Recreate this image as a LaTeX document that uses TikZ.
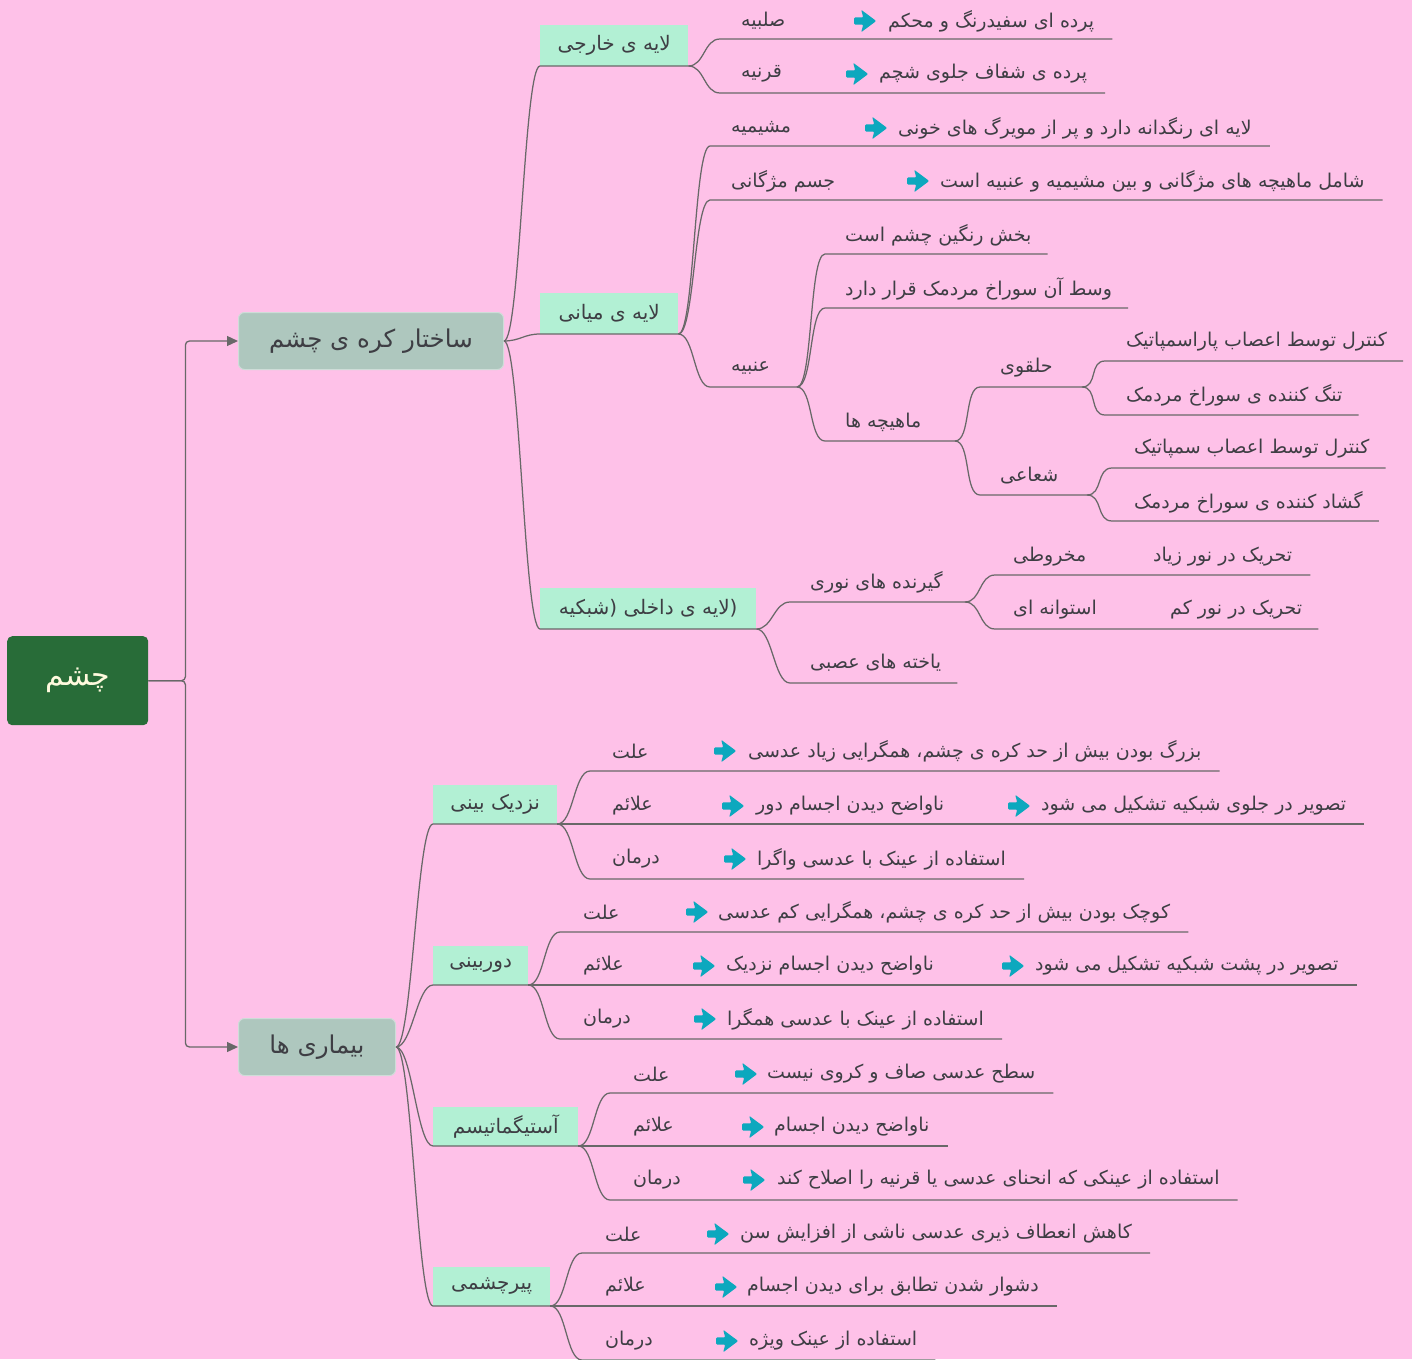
\documentclass[tikz,border=0pt]{standalone}
\usepackage{fontspec}
\usetikzlibrary{arrows.meta,calc}
\TeXXeTstate=1
\newfontfamily\fa[Script=Arabic]{DejaVu Sans}

\definecolor{bgpink}{RGB}{254,193,232}
\definecolor{rootgreen}{RGB}{40,108,56}
\definecolor{maingray}{RGB}{174,199,190}
\definecolor{subgreen}{RGB}{178,240,212}
\definecolor{linegray}{RGB}{104,104,104}
\definecolor{arrowteal}{RGB}{12,168,190}
\definecolor{inkgray}{RGB}{62,62,68}
\definecolor{rootink}{RGB}{255,250,222}

% a text row: label node
\newcommand\lab[4]{\node[lbl] (#1) at (#2,#3) {#4};}
% a teal arrow icon
\newcommand\arw[3]{\node[arricon] (#1) at (#2,#3) {};}
% curved connector from a branch point to the start of an underline, then the underline
\newcommand\branch[3]{\draw[conn] (#1) .. controls +(16,0) and +(-16,0) .. (#2) -- (#3);}

\begin{document}
\begin{tikzpicture}[x=1pt,y=-1pt,
  lbl/.style={anchor=west,inner sep=0pt,text=inkgray,font=\fa\fontsize{19}{22}\selectfont},
  arricon/.style={anchor=west,inner sep=0pt,minimum width=23pt,minimum height=24pt,
    path picture={\fill[arrowteal,rounded corners=1pt]
      ($(path picture bounding box.west)+(1,3.6)$) -- ++(9,0) -- ++(-2,7.6) -- ++(15,-11.2)
      -- ++(-15,-11.2) -- ++(2,7.6) -- ++(-9,0) -- cycle;}},
  conn/.style={draw=linegray,line width=1.25pt},
  trunk/.style={draw=linegray,line width=1.3pt,rounded corners=4pt,
    -{Triangle[length=11pt,width=10pt]}},
  rootbox/.style={fill=rootgreen,rounded corners=5pt,text=rootink,
    font=\fa\fontsize{30}{34}\selectfont},
  mainbox/.style={fill=maingray,draw=maingray!60!white,line width=1pt,rounded corners=6pt,
    text=inkgray,font=\fa\fontsize{24.5}{28}\selectfont},
  subbox/.style={fill=subgreen,inner sep=0pt,anchor=south west,text=inkgray,
    font=\fa\fontsize{20}{23}\selectfont}
]
\useasboundingbox (0,0) rectangle (1412,1359);
\fill[bgpink] (0,0) rectangle (1412,1359);

% ---------- root and the two main topics ----------
\node[rootbox,minimum width=141pt,minimum height=89pt,anchor=north west] (root) at (7,636) {\raisebox{-4pt}{\beginR چشم\endR}};
\node[mainbox,minimum width=265pt,minimum height=57pt,anchor=north west] (S) at (238,312) {\raisebox{-2pt}{\beginR ساختار کره ی چشم\endR}};
\node[mainbox,minimum width=157pt,minimum height=57pt,anchor=north west] (M) at (238,1018) {\raisebox{-2pt}{\beginR بیماری ها\endR}};
\draw[trunk] (root.east) -- ++(37,0) |- (S.west);
\draw[trunk] (root.east) -- ++(37,0) |- (M.west);

% ---------- layers of the eyeball ----------
\node[subbox,minimum width=148pt,minimum height=41pt] (L1) at (540,66) {\beginR لایه ی خارجی\endR};
\node[subbox,minimum width=138pt,minimum height=41pt] (L2) at (540,334) {\beginR لایه ی میانی\endR};
\node[subbox,minimum width=216pt,minimum height=41pt] (L3) at (540,629) {\beginR (لایه ی داخلی (شبکیه\endR};
\branch{S.east}{L1.south west}{L1.south east}
\branch{S.east}{L2.south west}{L2.south east}
\branch{S.east}{L3.south west}{L3.south east}

% outer layer
\lab{r1}{741}{21}{\beginR صلبیه\endR}\arw{r1a}{853}{21}\lab{r1d}{888}{21}{\beginR پرده ای سفیدرنگ و محکم\endR}
\coordinate (r1s) at (720,39); \coordinate (r1e) at ($(r1d.east |- r1s)+(18,0)$);
\branch{L1.south east}{r1s}{r1e}
\lab{r2}{741}{74}{\beginR قرنیه\endR}\arw{r2a}{845}{74}\lab{r2d}{879}{74}{\beginR پرده ی شفاف جلوی شچم\endR}
\coordinate (r2s) at (720,93); \coordinate (r2e) at ($(r2d.east |- r2s)+(18,0)$);
\branch{L1.south east}{r2s}{r2e}

% middle layer
\lab{r3}{731}{128}{\beginR مشیمیه\endR}\arw{r3a}{864}{128}\lab{r3d}{898}{128}{\beginR لایه ای رنگدانه دارد و پر از مویرگ های خونی\endR}
\coordinate (r3s) at (710,146); \coordinate (r3e) at ($(r3d.east |- r3s)+(18,0)$);
\branch{L2.south east}{r3s}{r3e}
\lab{r4}{731}{181}{\beginR جسم مژگانی\endR}\arw{r4a}{906}{181}\lab{r4d}{940}{181}{\beginR شامل ماهیچه های مژگانی و بین مشیمیه و عنبیه است\endR}
\coordinate (r4s) at (710,200); \coordinate (r4e) at ($(r4d.east |- r4s)+(18,0)$);
\branch{L2.south east}{r4s}{r4e}
\lab{r5}{731}{368}{\beginR عنبیه\endR}
\coordinate (r5s) at (710,387); \coordinate (r5e) at (797,387);
\branch{L2.south east}{r5s}{r5e}

% iris
\lab{r6}{845}{235}{\beginR بخش رنگین چشم است\endR}
\coordinate (r6s) at (825,254); \coordinate (r6e) at ($(r6.east |- r6s)+(16,0)$);
\branch{r5e}{r6s}{r6e}
\lab{r7}{845}{289}{\beginR وسط آن سوراخ مردمک قرار دارد\endR}
\coordinate (r7s) at (825,308); \coordinate (r7e) at ($(r7.east |- r7s)+(16,0)$);
\branch{r5e}{r7s}{r7e}
\lab{r8}{845}{422}{\beginR ماهیچه ها\endR}
\coordinate (r8s) at (825,441); \coordinate (r8e) at (955,441);
\branch{r5e}{r8s}{r8e}

% iris muscles
\lab{r9}{1000}{368}{\beginR حلقوی\endR}
\coordinate (r9s) at (980,387); \coordinate (r9e) at (1082,387);
\branch{r8e}{r9s}{r9e}
\lab{r10}{1000}{476}{\beginR شعاعی\endR}
\coordinate (r10s) at (980,495); \coordinate (r10e) at (1087,495);
\branch{r8e}{r10s}{r10e}
\lab{r11}{1126}{342}{\beginR کنترل توسط اعصاب پاراسمپاتیک\endR}
\coordinate (r11s) at (1105,361); \coordinate (r11e) at ($(r11.east |- r11s)+(16,0)$);
\branch{r9e}{r11s}{r11e}
\lab{r12}{1126}{395}{\beginR تنگ کننده ی سوراخ مردمک\endR}
\coordinate (r12s) at (1105,415); \coordinate (r12e) at ($(r12.east |- r12s)+(16,0)$);
\branch{r9e}{r12s}{r12e}
\lab{r13}{1134}{449}{\beginR کنترل توسط اعصاب سمپاتیک\endR}
\coordinate (r13s) at (1112,468); \coordinate (r13e) at ($(r13.east |- r13s)+(16,0)$);
\branch{r10e}{r13s}{r13e}
\lab{r14}{1134}{502}{\beginR گشاد کننده ی سوراخ مردمک\endR}
\coordinate (r14s) at (1112,521); \coordinate (r14e) at ($(r14.east |- r14s)+(16,0)$);
\branch{r10e}{r14s}{r14e}

% inner layer
\lab{r15}{810}{582}{\beginR گیرنده های نوری\endR}
\coordinate (r15s) at (790,602); \coordinate (r15e) at (965,602);
\branch{L3.south east}{r15s}{r15e}
\lab{r16}{810}{663}{\beginR یاخته های عصبی\endR}
\coordinate (r16s) at (790,683); \coordinate (r16e) at ($(r16.east |- r16s)+(16,0)$);
\branch{L3.south east}{r16s}{r16e}
\lab{r17}{1013}{557}{\beginR مخروطی\endR}\lab{r17d}{1153}{557}{\beginR تحریک در نور زیاد\endR}
\coordinate (r17s) at (995,575); \coordinate (r17e) at ($(r17d.east |- r17s)+(18,0)$);
\branch{r15e}{r17s}{r17e}
\lab{r18}{1013}{610}{\beginR استوانه ای\endR}\lab{r18d}{1170}{610}{\beginR تحریک در نور کم\endR}
\coordinate (r18s) at (995,629); \coordinate (r18e) at ($(r18d.east |- r18s)+(16,0)$);
\branch{r15e}{r18s}{r18e}

% ---------- diseases ----------
\node[subbox,minimum width=124pt,minimum height=39pt] (D1) at (433,824) {\beginR نزدیک بینی\endR};
\node[subbox,minimum width=95pt,minimum height=39pt] (D2) at (433,985) {\beginR دوربینی\endR};
\node[subbox,minimum width=145pt,minimum height=39pt] (D3) at (433,1146) {\beginR آستیگماتیسم\endR};
\node[subbox,minimum width=117pt,minimum height=39pt] (D4) at (433,1306) {\beginR پیرچشمی\endR};
\branch{M.east}{D1.south west}{D1.south east}
\branch{M.east}{D2.south west}{D2.south east}
\branch{M.east}{D3.south west}{D3.south east}
\branch{M.east}{D4.south west}{D4.south east}

% myopia
\lab{a1}{612}{751}{\beginR علت\endR}\arw{a1a}{713}{751}\lab{a1d}{748}{751}{\beginR بزرگ بودن بیش از حد کره ی چشم، همگرایی زیاد عدسی\endR}
\coordinate (a1s) at (590,771); \coordinate (a1e) at ($(a1d.east |- a1s)+(18,0)$);
\branch{D1.south east}{a1s}{a1e}
\lab{a2}{612}{806}{\beginR علائم\endR}\arw{a2a}{721}{806}\lab{a2d}{756}{806}{\beginR ناواضح دیدن اجسام دور\endR}
\arw{a2b}{1007}{806}\lab{a2f}{1041}{806}{\beginR تصویر در جلوی شبکیه تشکیل می شود\endR}
\coordinate (a2e) at ($(a2f.east |- D1.south east)+(18,0)$);
\draw[conn] (D1.south east) -- (a2e);
\lab{a3}{612}{859}{\beginR درمان\endR}\arw{a3a}{723}{859}\lab{a3d}{757}{859}{\beginR استفاده از عینک با عدسی واگرا\endR}
\coordinate (a3s) at (590,879); \coordinate (a3e) at ($(a3d.east |- a3s)+(18,0)$);
\branch{D1.south east}{a3s}{a3e}

% hyperopia
\lab{b1}{583}{912}{\beginR علت\endR}\arw{b1a}{685}{912}\lab{b1d}{718}{912}{\beginR کوچک بودن بیش از حد کره ی چشم، همگرایی کم عدسی\endR}
\coordinate (b1s) at (560,932); \coordinate (b1e) at ($(b1d.east |- b1s)+(18,0)$);
\branch{D2.south east}{b1s}{b1e}
\lab{b2}{583}{966}{\beginR علائم\endR}\arw{b2a}{692}{966}\lab{b2d}{726}{966}{\beginR ناواضح دیدن اجسام نزدیک\endR}
\arw{b2b}{1001}{966}\lab{b2f}{1035}{966}{\beginR تصویر در پشت شبکیه تشکیل می شود\endR}
\coordinate (b2e) at ($(b2f.east |- D2.south east)+(18,0)$);
\draw[conn] (D2.south east) -- (b2e);
\lab{b3}{583}{1019}{\beginR درمان\endR}\arw{b3a}{693}{1019}\lab{b3d}{727}{1019}{\beginR استفاده از عینک با عدسی همگرا\endR}
\coordinate (b3s) at (560,1039); \coordinate (b3e) at ($(b3d.east |- b3s)+(18,0)$);
\branch{D2.south east}{b3s}{b3e}

% astigmatism
\lab{c1}{633}{1074}{\beginR علت\endR}\arw{c1a}{734}{1074}\lab{c1d}{767}{1074}{\beginR سطح عدسی صاف و کروی نیست\endR}
\coordinate (c1s) at (610,1093); \coordinate (c1e) at ($(c1d.east |- c1s)+(18,0)$);
\branch{D3.south east}{c1s}{c1e}
\lab{c2}{633}{1127}{\beginR علائم\endR}\arw{c2a}{741}{1127}\lab{c2d}{774}{1127}{\beginR ناواضح دیدن اجسام\endR}
\coordinate (c2e) at ($(c2d.east |- D3.south east)+(18,0)$);
\draw[conn] (D3.south east) -- (c2e);
\lab{c3}{633}{1180}{\beginR درمان\endR}\arw{c3a}{742}{1180}\lab{c3d}{777}{1180}{\beginR استفاده از عینکی که انحنای عدسی یا قرنیه را اصلاح کند\endR}
\coordinate (c3s) at (610,1200); \coordinate (c3e) at ($(c3d.east |- c3s)+(18,0)$);
\branch{D3.south east}{c3s}{c3e}

% presbyopia
\lab{d1}{605}{1234}{\beginR علت\endR}\arw{d1a}{706}{1234}\lab{d1d}{740}{1234}{\beginR کاهش انعطاف ذیری عدسی ناشی از افزایش سن\endR}
\coordinate (d1s) at (582,1253); \coordinate (d1e) at ($(d1d.east |- d1s)+(18,0)$);
\branch{D4.south east}{d1s}{d1e}
\lab{d2}{605}{1287}{\beginR علائم\endR}\arw{d2a}{714}{1287}\lab{d2d}{747}{1287}{\beginR دشوار شدن تطابق برای دیدن اجسام\endR}
\coordinate (d2e) at ($(d2d.east |- D4.south east)+(18,0)$);
\draw[conn] (D4.south east) -- (d2e);
\lab{d3}{605}{1341}{\beginR درمان\endR}\arw{d3a}{715}{1341}\lab{d3d}{749}{1341}{\beginR استفاده از عینک ویژه\endR}
\coordinate (d3s) at (582,1360); \coordinate (d3e) at ($(d3d.east |- d3s)+(18,0)$);
\branch{D4.south east}{d3s}{d3e}
\end{tikzpicture}
\end{document}
